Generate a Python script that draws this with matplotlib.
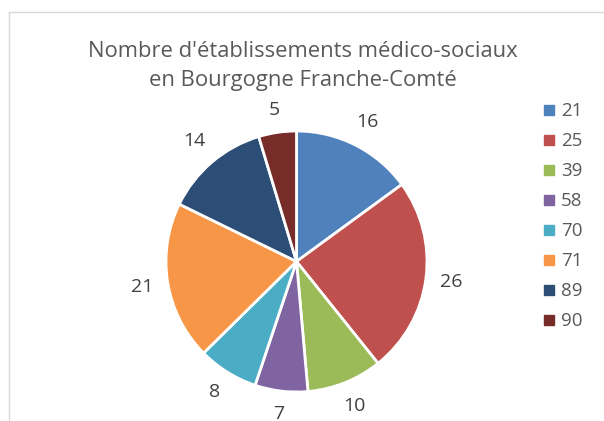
import matplotlib
matplotlib.use("Agg")
import matplotlib.pyplot as plt
from matplotlib.lines import Line2D
import numpy as np

categories = ["21", "25", "39", "58", "70", "71", "89", "90"]
values = [16, 26, 10, 7, 8, 21, 14, 5]
colors = ["#4F81BD", "#C0504D", "#9BBB59", "#8064A2", "#4BACC6", "#F79646", "#2C4D75", "#772C2A"]
title = "Nombre d'établissements médico-sociaux\nen Bourgogne Franche-Comté"

plt.rcParams['font.family'] = ['Open Sans', 'DejaVu Sans']
W, H = 604, 421
fig = plt.figure(figsize=(W/100, H/100), dpi=100)

cx, cy, r = 296.5, 261.5, 130.5
ax = fig.add_axes([(cx - r)/W, (H - cy - r)/H, 2*r/W, 2*r/H])
wedges, _ = ax.pie(values, colors=colors, startangle=90, counterclock=False,
                   wedgeprops=dict(edgecolor="white", linewidth=2))
ax.set_xlim(-1, 1)
ax.set_ylim(-1, 1)
ax.set_aspect('equal')

# outside-end data labels: place each just beyond the arc, accounting for its box
fig.canvas.draw()
renderer = fig.canvas.get_renderer()
gap = 13.0  # pixels between arc and label box
for w, v in zip(wedges, values):
    th = np.deg2rad((w.theta1 + w.theta2) / 2)
    t = ax.text(0, 0, str(v), ha='center', va='center', fontsize=14,
                color="#404040", clip_on=False)
    bb = t.get_window_extent(renderer)
    ext = abs(bb.width / 2 * np.cos(th)) + abs(bb.height / 2 * np.sin(th))
    d = (r + gap + ext) / r
    t.set_position((d * np.cos(th), d * np.sin(th)))

fig.text(303/W, 1 - 66/H, title, ha='center', va='center', fontsize=15.8,
         color="#595959", linespacing=1.5)

handles = [Line2D([], [], marker='s', linestyle='none', markersize=7,
                  markerfacecolor=c, markeredgecolor=c) for c in colors]
leg = fig.legend(handles, categories, loc='upper left',
                 bbox_to_anchor=(533/W, 1 - 93/H), frameon=False,
                 fontsize=13.5, handlelength=0.7, handletextpad=0.3,
                 labelspacing=0.64, borderpad=0)
for t in leg.get_texts():
    t.set_color("#595959")

fig.add_artist(Line2D([9/W, 1], [1 - 12/H, 1 - 12/H], color="#D9D9D9", lw=1))
fig.add_artist(Line2D([9/W, 9/W], [0, 1 - 12/H], color="#D9D9D9", lw=1))

fig.savefig("out.png", dpi=100)
